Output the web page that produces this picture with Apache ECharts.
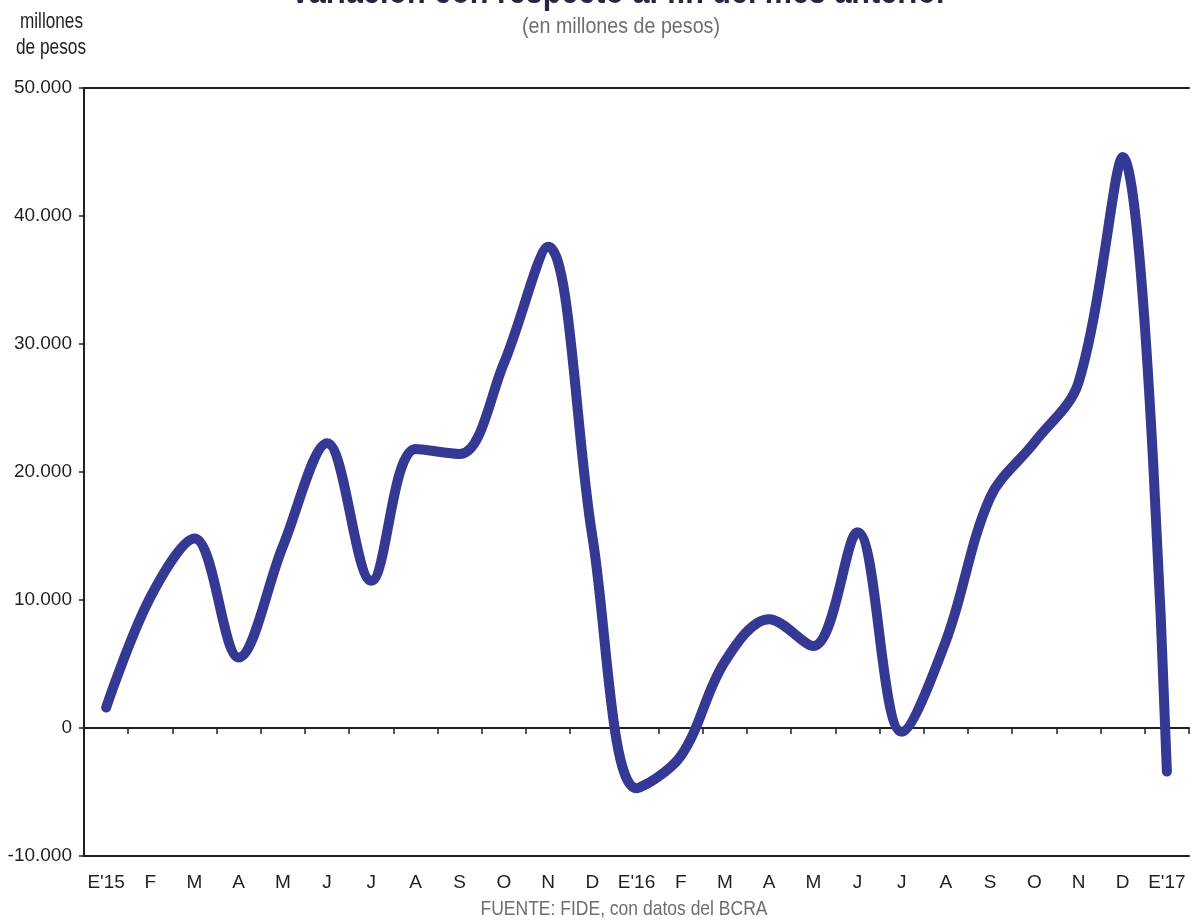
<!DOCTYPE html>
<html>
<head>
<meta charset="utf-8">
<script src="https://cdn.jsdelivr.net/npm/echarts@6/dist/echarts.min.js"></script>
<style>
  html, body { margin: 0; padding: 0; background: #ffffff; }
  #chart { width: 1191px; height: 922px; }
</style>
</head>
<body>
<div id="chart"></div>
<script>
// Monthly change vs. end of previous month, millions of pesos
const months = ["E'15", 'F', 'M', 'A', 'M', 'J', 'J', 'A', 'S', 'O', 'N', 'D',
                "E'16", 'F', 'M', 'A', 'M', 'J', 'J', 'A', 'S', 'O', 'N', 'D',
                "E'17"];
const variacion = [1600, 10200, 14800, 5500, 14200, 22250, 11500, 21800, 21400, 28500, 37600, 15000,
                   -4700, -2200, 5200, 8500, 6400, 15300, -300, 6800, 18000, 22300, 27000, 44600,
                   -3400];
const yTicks = { min: -10000, max: 50000, step: 10000 };

const titleText = 'Variación con respecto al fin del mes anterior';
const subtitleText = '(en millones de pesos)';
const unitLines = ['millones', 'de pesos'];
const sourceText = 'FUENTE: FIDE, con datos del BCRA';

const sans = "'Liberation Sans', Arial, sans-serif";
const ink = '#231f20';
const grey = '#6d6e71';

function thousands(v) {
  const s = Math.abs(v).toString().replace(/\B(?=(\d{3})+(?!\d))/g, '.');
  return (v < 0 ? '-' : '') + s;
}

// Condensed-looking text: measure at the given font, then squeeze horizontally to a set width
const measureCtx = document.createElement('canvas').getContext('2d');
function squeezed(text, font, width, x, baselineY, size, fill, align) {
  measureCtx.font = font;
  const natural = measureCtx.measureText(text).width;
  const k = width / natural;
  return {
    type: 'text', x: x, y: baselineY - 0.35 * size, scaleX: k, scaleY: 1,
    style: { text: text, x: 0, y: 0, align: align || 'center', verticalAlign: 'middle', font: font, fill: fill }
  };
}

const chart = echarts.init(document.getElementById('chart'), null, { renderer: 'canvas' });

chart.setOption({
  backgroundColor: '#ffffff',
  animation: false,
  grid: { left: 84, right: 2, top: 88, bottom: 66, containLabel: false },
  graphic: [
    squeezed(titleText, 'bold 36px ' + sans, 658, 619, 6, 36, '#262640', 'center'),
    squeezed(subtitleText, '22px ' + sans, 198, 621, 35, 22, grey, 'center'),
    squeezed(unitLines[0], '22px ' + sans, 63, 20, 30, 22, ink, 'left'),
    squeezed(unitLines[1], '22px ' + sans, 70, 16, 56, 22, ink, 'left'),
    squeezed(sourceText, '21px ' + sans, 287, 624, 917, 21, grey, 'center')
  ],
  xAxis: [
    { // axis line through zero with boundary ticks
      type: 'category', data: months, boundaryGap: true, position: 'bottom',
      axisLine: { show: true, onZero: true, lineStyle: { color: ink, width: 2 } },
      axisTick: { show: true, length: 6, lineStyle: { color: ink, width: 1.5 } },
      axisLabel: { show: false }, splitLine: { show: false }
    },
    { // bottom frame with month labels
      type: 'category', data: months, boundaryGap: true, position: 'bottom',
      axisLine: { show: true, onZero: false, lineStyle: { color: ink, width: 2 } },
      axisTick: { show: false },
      axisLabel: { show: true, interval: 0, margin: 17, color: ink, fontFamily: sans, fontSize: 19 },
      splitLine: { show: false }
    },
    { // top frame
      type: 'category', data: months, position: 'top',
      axisLine: { show: true, onZero: false, lineStyle: { color: ink, width: 2 } },
      axisTick: { show: false }, axisLabel: { show: false }, splitLine: { show: false }
    }
  ],
  yAxis: {
    type: 'value', min: yTicks.min, max: yTicks.max, interval: yTicks.step,
    axisLine: { show: true, lineStyle: { color: ink, width: 2 } },
    axisTick: { show: true, length: 5, lineStyle: { color: ink, width: 1.5 } },
    axisLabel: { show: true, margin: 12, color: ink, fontFamily: sans, fontSize: 19, formatter: thousands },
    splitLine: { show: false }
  },
  series: [{
    type: 'line', xAxisIndex: 0, data: variacion, smooth: 0.35,
    symbol: 'none',
    lineStyle: { color: '#363994', width: 10, cap: 'round', join: 'round' }
  }]
});
</script>
</body>
</html>
